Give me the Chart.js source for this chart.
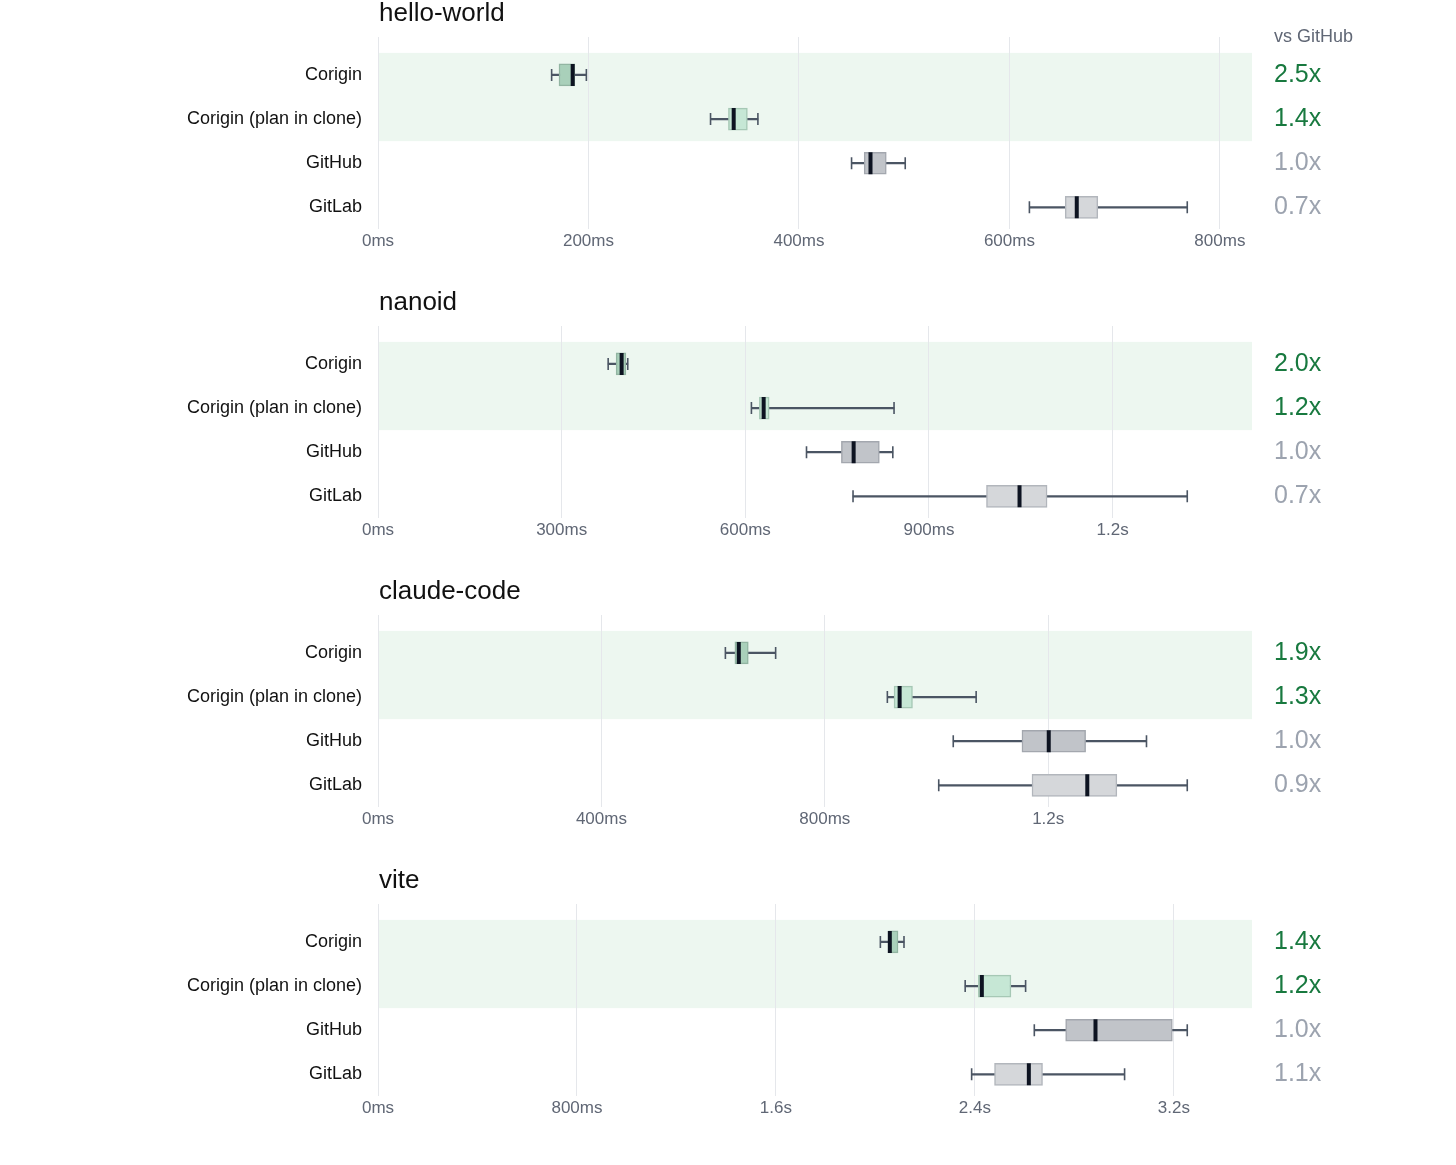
<!DOCTYPE html>
<html><head><meta charset="utf-8">
<script src="https://cdn.jsdelivr.net/npm/chart.js@4.4.1/dist/chart.umd.min.js"></script>
<style>
html,body{margin:0;padding:0;background:#fff;}
#wrap{width:1456px;height:1165px;position:relative;overflow:hidden;}
canvas{display:block;}
</style></head><body><div id="wrap">
<canvas id="c0" width="1456" height="289"></canvas>
<canvas id="c1" width="1456" height="289"></canvas>
<canvas id="c2" width="1456" height="289"></canvas>
<canvas id="c3" width="1456" height="289"></canvas>
</div>
<script>
// ---------- DATA ----------
const categories = ["Corigin", "Corigin (plan in clone)", "GitHub", "GitLab"];
const benchmarkNames = ["hello-world", "nanoid", "claude-code", "vite"];
const ratioHeader = "vs GitHub";

// hello-world (ms)
const helloMin = [165, 316, 450, 619];
const helloQ1  = [172, 333, 462, 653];
const helloMed = [185, 338, 468, 664];
const helloQ3  = [187, 351, 483, 684];
const helloMax = [198, 361, 501, 769];
const helloRatio = ["2.5x", "1.4x", "1.0x", "0.7x"];
const helloTicks = [0, 200, 400, 600, 800];
const helloTickLabels = ["0ms", "200ms", "400ms", "600ms", "800ms"];

// nanoid (ms)
const nanoidMin = [376, 610, 700, 776];
const nanoidQ1  = [389, 623, 757, 994];
const nanoidMed = [398, 630, 777, 1048];
const nanoidQ3  = [405, 639, 819, 1093];
const nanoidMax = [408, 843, 841, 1322];
const nanoidRatio = ["2.0x", "1.2x", "1.0x", "0.7x"];
const nanoidTicks = [0, 300, 600, 900, 1200];
const nanoidTickLabels = ["0ms", "300ms", "600ms", "900ms", "1.2s"];

// claude-code (ms)
const claudeMin = [622, 912, 1030, 1004];
const claudeQ1  = [639, 924, 1153, 1171];
const claudeMed = [646, 934, 1201, 1270];
const claudeQ3  = [663, 957, 1267, 1323];
const claudeMax = [712, 1071, 1376, 1449];
const claudeRatio = ["1.9x", "1.3x", "1.0x", "0.9x"];
const claudeTicks = [0, 400, 800, 1200];
const claudeTickLabels = ["0ms", "400ms", "800ms", "1.2s"];

// vite (ms)
const viteMin = [2020, 2361, 2639, 2387];
const viteQ1  = [2053, 2414, 2765, 2479];
const viteMed = [2058, 2428, 2885, 2617];
const viteQ3  = [2091, 2545, 3194, 2672];
const viteMax = [2115, 2604, 3254, 3002];
const viteRatio = ["1.4x", "1.2x", "1.0x", "1.1x"];
const viteTicks = [0, 800, 1600, 2400, 3200];
const viteTickLabels = ["0ms", "800ms", "1.6s", "2.4s", "3.2s"];

const highlighted = [0, 1]; // rows with green band

// ---------- STYLE ----------
const FONT = '"Liberation Sans", Arial, Helvetica, sans-serif';
const boxFill   = ['#a9d0ba', '#c6e7d5', '#c1c4c9', '#d5d7da'];
const boxBorder = ['#92b5a2', '#a6c8b5', '#a3a7ae', '#b2b6bc'];
const ratioColor = ['#18793f', '#18793f', '#9ca3af', '#9ca3af'];
const whiskerColor = '#4b5563';
const medianColor = '#0d1321';
const bandColor = '#edf7f0';
const gridColor = '#e5e7eb';

const panels = [
  {name: benchmarkNames[0], min: helloMin, q1: helloQ1, med: helloMed, q3: helloQ3, max: helloMax, ratio: helloRatio, ticks: helloTicks, tickLabels: helloTickLabels, header: true},
  {name: benchmarkNames[1], min: nanoidMin, q1: nanoidQ1, med: nanoidMed, q3: nanoidQ3, max: nanoidMax, ratio: nanoidRatio, ticks: nanoidTicks, tickLabels: nanoidTickLabels},
  {name: benchmarkNames[2], min: claudeMin, q1: claudeQ1, med: claudeMed, q3: claudeQ3, max: claudeMax, ratio: claudeRatio, ticks: claudeTicks, tickLabels: claudeTickLabels},
  {name: benchmarkNames[3], min: viteMin, q1: viteQ1, med: viteMed, q3: viteQ3, max: viteMax, ratio: viteRatio, ticks: viteTicks, tickLabels: viteTickLabels}
];

const decor = {
  id: 'decor',
  beforeDraw(chart) {
    const {ctx, scales: {x, y}} = chart;
    const o = chart.options.plugins.decor;
    const lo = Math.min(...o.band), hi = Math.max(...o.band);
    const top = y.getPixelForValue(lo - 0.5), bot = y.getPixelForValue(hi + 0.5);
    const l = x.getPixelForValue(x.min), r = x.getPixelForValue(x.max);
    ctx.save();
    ctx.fillStyle = bandColor;
    ctx.fillRect(l, top, r - l, bot - top);
    ctx.restore();
  },
  afterDraw(chart) {
    const {ctx, chartArea, scales: {yr}} = chart;
    const o = chart.options.plugins.decor;
    ctx.save();
    ctx.textAlign = 'left';
    ctx.textBaseline = 'middle';
    ctx.fillStyle = '#111111';
    ctx.font = '26px ' + FONT;
    ctx.fillText(o.title, chartArea.left + 1, 14);
    if (o.header) {
      ctx.fillStyle = '#606775';
      ctx.font = '18px ' + FONT;
      ctx.fillText(o.header, yr.left + 22, chartArea.top);
    }
    ctx.restore();
  }
};

panels.forEach((p, k) => {
  const rows = categories.map((_, i) => i);
  const axisMax = Math.max(...p.max) * 1.08;
  const yCommon = {
    type: 'linear', reverse: true, min: -0.86, max: 3.5, offset: false,
    afterBuildTicks: s => { s.ticks = rows.map(v => ({value: v})); },
    grid: {display: false, drawTicks: false, offset: false},
    border: {display: false}
  };
  new Chart(document.getElementById('c' + k), {
    type: 'bar',
    data: {
      datasets: [
        {
          type: 'scatter', label: 'median', order: 0,
          data: rows.map(i => ({x: p.med[i], y: i})),
          pointStyle: 'line', rotation: 90, radius: 11, hoverRadius: 11,
          borderColor: medianColor, borderWidth: 4, backgroundColor: medianColor
        },
        {
          type: 'bar', label: 'box', order: 1, indexAxis: 'y', grouped: false,
          data: rows.map(i => ({x: [p.q1[i], p.q3[i]], y: i})),
          barThickness: 22, backgroundColor: boxFill, borderColor: boxBorder,
          borderWidth: 1.5, borderSkipped: false
        },
        {
          type: 'scatter', label: 'caps', order: 2,
          data: rows.flatMap(i => [{x: p.min[i], y: i}, {x: p.max[i], y: i}]),
          pointStyle: 'line', rotation: 90, radius: 6, hoverRadius: 6,
          borderColor: whiskerColor, borderWidth: 1.6, backgroundColor: whiskerColor
        },
        {
          type: 'bar', label: 'whisker', order: 3, indexAxis: 'y', grouped: false,
          data: rows.map(i => ({x: [p.min[i], p.max[i]], y: i})),
          barThickness: 1.6, backgroundColor: whiskerColor, borderWidth: 0
        }
      ]
    },
    options: {
      indexAxis: 'y',
      responsive: false,
      animation: false,
      devicePixelRatio: 1,
      layout: {padding: {top: 35, left: 0, right: 0, bottom: 0}},
      plugins: {
        legend: {display: false},
        tooltip: {enabled: false},
        decor: {title: p.name, header: p.header ? ratioHeader : null, band: highlighted}
      },
      scales: {
        x: {
          type: 'linear', position: 'bottom', min: 0, max: axisMax, offset: false,
          afterBuildTicks: s => { s.ticks = p.ticks.map(v => ({value: v})); },
          afterFit: s => { s.height = 59.6; },
          grid: {color: gridColor, lineWidth: 1, drawTicks: false},
          border: {display: false},
          ticks: {
            autoSkip: false, maxRotation: 0, padding: 2,
            color: '#606775', font: {family: FONT, size: 17},
            callback: (v, i) => p.tickLabels[i]
          }
        },
        y: Object.assign({}, yCommon, {
          position: 'left',
          afterFit: s => { s.width = 378; },
          ticks: {
            autoSkip: false, padding: 16, color: '#111111',
            font: {family: FONT, size: 18},
            callback: v => categories[v]
          }
        }),
        yr: Object.assign({}, yCommon, {
          position: 'right',
          afterFit: s => { s.width = 204; },
          ticks: {
            autoSkip: false, padding: 22,
            color: ctx => ratioColor[ctx.index],
            font: {family: FONT, size: 25},
            callback: v => p.ratio[v]
          }
        })
      }
    },
    plugins: [decor]
  });
});
</script>
</body></html>
